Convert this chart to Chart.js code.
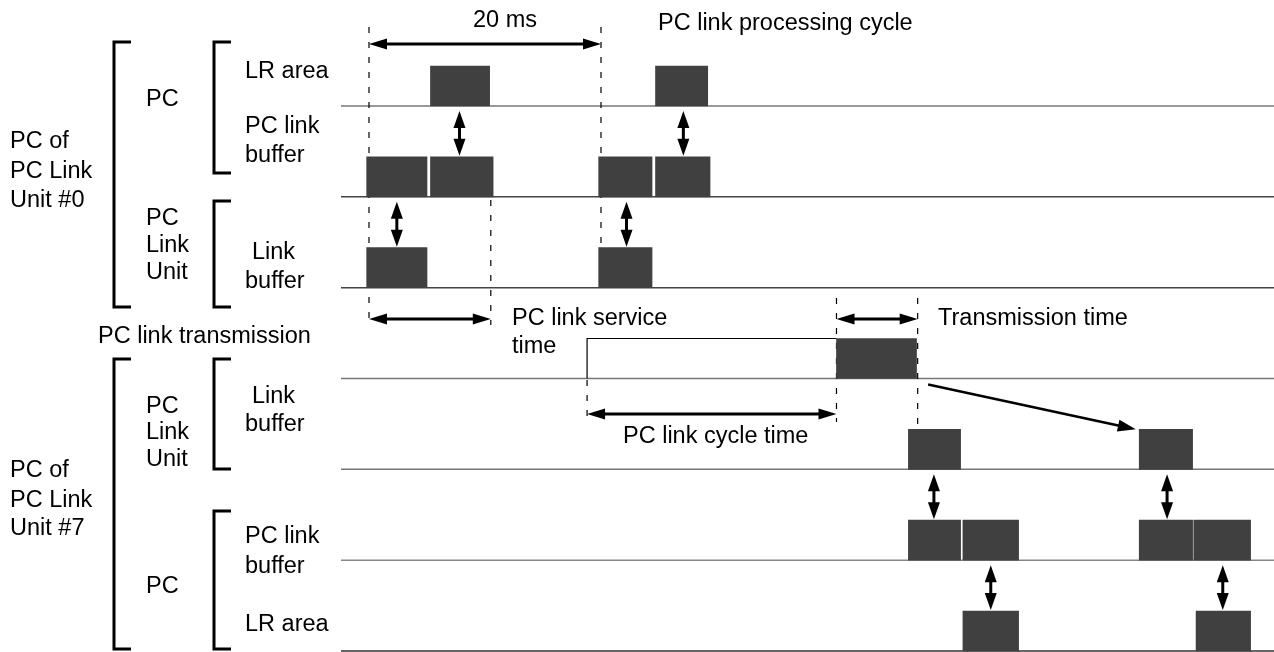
<!DOCTYPE html>
<html>
<head>
<meta charset="utf-8">
<script src="https://cdn.jsdelivr.net/npm/chart.js@4"></script>
<style>
html, body { margin: 0; padding: 0; background: #fff; }
</style>
</head>
<body>
<canvas id="timing" width="1274" height="652"></canvas>
<script>
// lanes, top to bottom (unit #0 then unit #7)
const laneNames = ["#0 LR area", "#0 PC link buffer", "#0 Link buffer",
                   "Link (transmission)", "#7 Link buffer", "#7 PC link buffer", "#7 LR area"];

// blocks: lane, start ms, end ms
const blockLane  = [0, 0, 1, 1, 1, 1, 2, 2, 3, 4, 4, 5, 5, 5, 5, 6, 6];
const blockStart = [5.3, 24.7, -0.2, 5.3, 19.8, 24.7, -0.2, 19.8, 40.3, 46.5, 66.4, 46.5, 51.2, 66.4, 71.1, 51.2, 71.3];
const blockEnd   = [10.4, 29.2, 5.0, 10.7, 24.4, 29.4, 5.0, 24.4, 47.2, 51.0, 71.0, 51.0, 56.0, 71.0, 76.0, 56.0, 76.0];

// copies between a lane and the lane below it (ms)
const transferLane = [0, 0, 1, 1, 4, 4, 5, 5];
const transferAt   = [7.8, 27.1, 2.4, 22.2, 48.7, 68.8, 53.6, 73.6];

// timing dimensions (ms)
const spanNames = ["20 ms", "PC link service time", "Transmission time", "PC link cycle time"];
const spanFrom  = [0, 0, 40.3, 18.8];
const spanTo    = [20, 10.5, 47.3, 40.3];

// dashed guides (ms)
const guideAt = [0, 20, 10.5, 18.8, 40.3, 47.3];

// frame sent from lane 3 and received on lane 4
const sendAt = 48.2, recvAt = 66.1;

// layout
const W = 1274, H = 652;
const PX_PER_MS = 11.6, ORIGIN = 369;
const LANE_PX = 90.83, FIRST_CENTER = 86, HALF = 20;
const LANE_LEFT = 341;
const laneColors = ["#777", "#444", "#444", "#777", "#777", "#888", "#333"];
const spanY = [44, 319, 319, 414];
const guideTop = [27, 27, 200, 380, 298, 298];
const guideBottom = [320, 247, 325, 422, 422, 427];
const FONT = '23.5px "Liberation Sans", Arial, sans-serif';

const texts = [
  ["20 ms", 505, 27, "center"],
  ["PC link processing cycle", 658, 30],
  ["PC of", 10, 148], ["PC Link", 10, 178], ["Unit #0", 10, 207],
  ["PC", 146, 106],
  ["LR area", 245, 78],
  ["PC link", 245, 133], ["buffer", 245, 162],
  ["PC", 146, 225], ["Link", 146, 252], ["Unit", 146, 279],
  ["Link", 252, 259], ["buffer", 245, 288],
  ["PC link service", 512, 325], ["time", 512, 353],
  ["PC link transmission", 98, 343],
  ["Transmission time", 938, 325],
  ["PC link cycle time", 623, 443],
  ["PC", 146, 413], ["Link", 146, 439], ["Unit", 146, 466],
  ["Link", 252, 403], ["buffer", 245, 431],
  ["PC of", 10, 477], ["PC Link", 10, 507], ["Unit #7", 10, 535],
  ["PC", 146, 593],
  ["PC link", 245, 543], ["buffer", 245, 573],
  ["LR area", 245, 631]
];
const brackets = [[114, 42, 307], [214, 42, 173], [214, 201, 307],
                  [114, 359, 649], [214, 359, 469], [214, 511, 649]];

function arrow(ctx, x1, y1, x2, y2, len, wid, both) {
  const a = Math.atan2(y2 - y1, x2 - x1);
  const cx = Math.cos(a), sx = Math.sin(a);
  ctx.beginPath();
  ctx.moveTo(x1 + (both ? cx * len * 0.8 : 0), y1 + (both ? sx * len * 0.8 : 0));
  ctx.lineTo(x2 - cx * len * 0.8, y2 - sx * len * 0.8);
  ctx.stroke();
  const head = (px, py, dx, dy) => {
    ctx.beginPath();
    ctx.moveTo(px, py);
    ctx.lineTo(px - dx * len - dy * wid / 2, py - dy * len + dx * wid / 2);
    ctx.lineTo(px - dx * len + dy * wid / 2, py - dy * len - dx * wid / 2);
    ctx.closePath();
    ctx.fill();
  };
  head(x2, y2, cx, sx);
  if (both) head(x1, y1, -cx, -sx);
}

const diagram = {
  id: "diagram",
  beforeDatasetsDraw(chart) {
    const ctx = chart.ctx, xs = chart.scales.x, ys = chart.scales.y;
    ctx.save();
    // lane base lines
    ctx.lineWidth = 1.5;
    laneNames.forEach((n, k) => {
      const y = ys.getPixelForValue(k) + HALF;
      ctx.strokeStyle = laneColors[k];
      ctx.beginPath();
      ctx.moveTo(LANE_LEFT, y);
      ctx.lineTo(W, y);
      ctx.stroke();
    });
    // dashed guides
    ctx.strokeStyle = "#000";
    ctx.lineWidth = 1.2;
    ctx.setLineDash([6, 9]);
    guideAt.forEach((t, i) => {
      const x = xs.getPixelForValue(t);
      ctx.beginPath();
      ctx.moveTo(x, guideTop[i]);
      ctx.lineTo(x, guideBottom[i]);
      ctx.stroke();
    });
    ctx.setLineDash([]);
    // service waiting outline on transmission lane
    const base = ys.getPixelForValue(3) + HALF, top = ys.getPixelForValue(3) - HALF;
    ctx.lineWidth = 1.2;
    ctx.beginPath();
    ctx.moveTo(xs.getPixelForValue(spanFrom[3]), base);
    ctx.lineTo(xs.getPixelForValue(spanFrom[3]), top);
    ctx.lineTo(xs.getPixelForValue(spanTo[3]), top);
    ctx.stroke();
    ctx.restore();
  },
  afterDatasetsDraw(chart) {
    const ctx = chart.ctx, xs = chart.scales.x, ys = chart.scales.y;
    ctx.save();
    ctx.strokeStyle = "#000";
    ctx.fillStyle = "#000";
    ctx.lineWidth = 3;
    // transfers
    transferAt.forEach((t, i) => {
      const k = transferLane[i], x = xs.getPixelForValue(t);
      arrow(ctx, x, ys.getPixelForValue(k) + HALF + 5, x, ys.getPixelForValue(k + 1) - HALF - 1, 17, 12, true);
    });
    // dimensions
    spanFrom.forEach((t, i) => {
      arrow(ctx, xs.getPixelForValue(t), spanY[i], xs.getPixelForValue(spanTo[i]), spanY[i], 18, 11, true);
    });
    // frame transmission
    ctx.lineWidth = 2.5;
    arrow(ctx, xs.getPixelForValue(sendAt), ys.getPixelForValue(3) + HALF + 6,
          xs.getPixelForValue(recvAt), ys.getPixelForValue(4) - HALF, 18, 12, false);
    // brackets
    ctx.lineWidth = 3;
    brackets.forEach(([x, y0, y1]) => {
      ctx.beginPath();
      ctx.moveTo(x + 17, y0);
      ctx.lineTo(x, y0);
      ctx.lineTo(x, y1);
      ctx.lineTo(x + 17, y1);
      ctx.stroke();
    });
    // text
    ctx.font = FONT;
    ctx.textBaseline = "alphabetic";
    texts.forEach(([s, x, y, align]) => {
      ctx.textAlign = align || "left";
      ctx.fillText(s, x, y);
    });
    ctx.restore();
  }
};

new Chart(document.getElementById("timing"), {
  type: "bar",
  data: {
    datasets: [{
      label: "blocks",
      data: blockLane.map((k, i) => ({ y: k, x: [blockStart[i], blockEnd[i]] })),
      backgroundColor: "#404040",
      borderWidth: 0,
      barThickness: HALF * 2
    }]
  },
  options: {
    indexAxis: "y",
    responsive: false,
    animation: false,
    events: [],
    layout: { padding: 0 },
    plugins: { legend: { display: false }, tooltip: { enabled: false } },
    scales: {
      x: { type: "linear", display: false, offset: false,
           min: -ORIGIN / PX_PER_MS, max: (W - ORIGIN) / PX_PER_MS },
      y: { type: "linear", display: false, offset: false, reverse: true,
           min: -FIRST_CENTER / LANE_PX, max: (H - FIRST_CENTER) / LANE_PX }
    }
  },
  plugins: [diagram]
});
</script>
</body>
</html>
